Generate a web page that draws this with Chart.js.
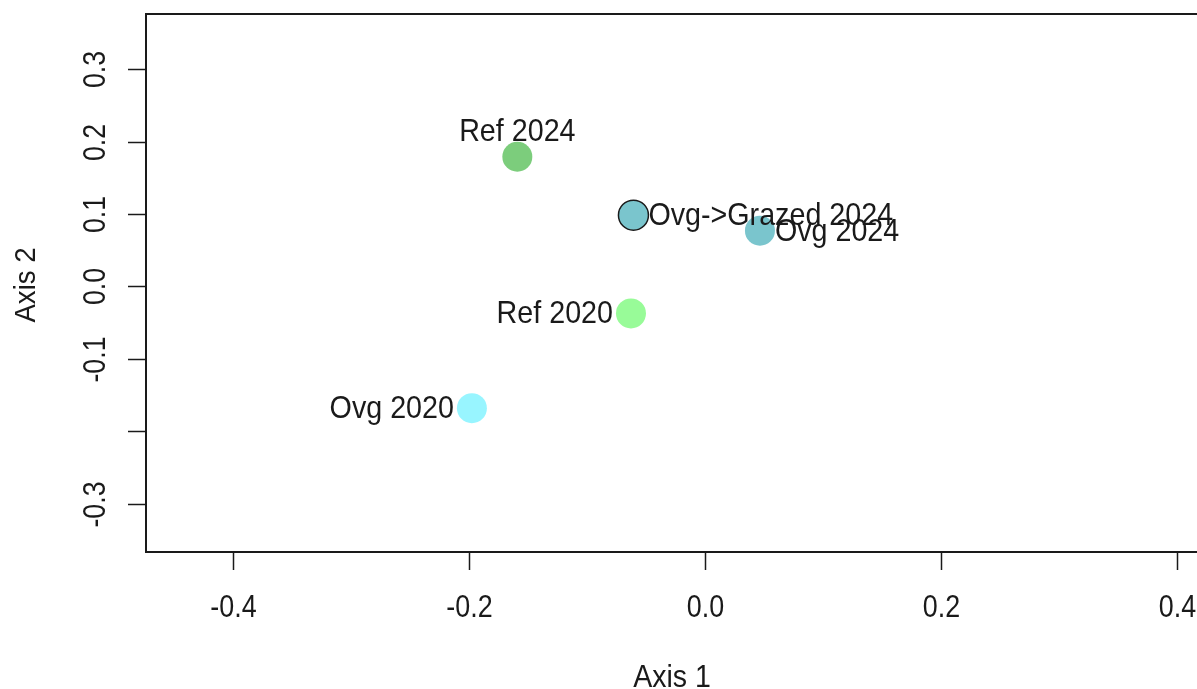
<!DOCTYPE html>
<html>
<head>
<meta charset="utf-8">
<script src="https://cdn.jsdelivr.net/npm/chart.js@4/dist/chart.umd.min.js"></script>
<style>
  html, body { margin: 0; padding: 0; background: #ffffff; overflow: hidden; }
  #wrap { width: 1197px; height: 689px; }
</style>
</head>
<body>
<div id="wrap"><canvas id="ord" width="1197" height="689"></canvas></div>
<script>
// Ordination scores for each group/year
const groups = ['Ref 2024', 'Ovg->Grazed 2024', 'Ovg 2024', 'Ref 2020', 'Ovg 2020'];
const axis1Scores = [-0.159, -0.0606, 0.0466, -0.0627, -0.1975];
const axis2Scores = [0.179, 0.0984, 0.077, -0.0372, -0.1679];

// Marker fills and outlines
const fillColors = ['#7CCD7C', '#7AC5CD', '#7AC5CD', '#98FB98', '#98F5FF'];
const edgeColors = ['#7CCD7C', '#1a1a1a', '#7AC5CD', '#98FB98', '#98F5FF'];
const edgeWidths = [0, 1.5, 0, 0, 0];

// Which side of the marker each name sits on
const labelSide = ['top', 'right', 'right', 'left', 'left'];

// Axis ticks
const xTicks = [-0.4, -0.2, 0.0, 0.2, 0.4];
const xTickLabels = ['-0.4', '-0.2', '0.0', '0.2', '0.4'];
const yTicks = [-0.3, -0.2, -0.1, 0.0, 0.1, 0.2, 0.3];
const yTickLabels = ['-0.3', '', '-0.1', '0.0', '0.1', '0.2', '0.3'];

const points = axis1Scores.map((x, i) => ({ x: x, y: axis2Scores[i] }));

const FONT = '"Liberation Sans", Arial, Helvetica, sans-serif';
const INK = '#1a1a1a';

function drawText(ctx, txt, x, y, size, sx, angle, align) {
  ctx.save();
  ctx.translate(x, y);
  if (angle) ctx.rotate(angle);
  ctx.scale(sx, 1);
  ctx.font = size + 'px ' + FONT;
  ctx.textAlign = align;
  ctx.textBaseline = 'alphabetic';
  ctx.fillStyle = INK;
  ctx.fillText(txt, 0, 0);
  ctx.restore();
}

// Box, ticks and axis titles in base-graphics style
const framePlugin = {
  id: 'frame',
  beforeDatasetsDraw(chart) {
    const ctx = chart.ctx;
    const a = chart.chartArea;
    const xs = chart.scales.x, ys = chart.scales.y;
    ctx.save();
    ctx.strokeStyle = INK;
    ctx.lineWidth = 2;
    ctx.beginPath();
    ctx.moveTo(chart.width + 2, a.top);
    ctx.lineTo(a.left, a.top);
    ctx.lineTo(a.left, a.bottom);
    ctx.lineTo(chart.width + 2, a.bottom);
    ctx.stroke();

    ctx.lineWidth = 1.5;
    xTicks.forEach((v, i) => {
      const px = Math.round(xs.getPixelForValue(v)) + 0.5;
      ctx.beginPath();
      ctx.moveTo(px, a.bottom);
      ctx.lineTo(px, a.bottom + 18);
      ctx.stroke();
      drawText(ctx, xTickLabels[i], px, 617, 32, 0.84, 0, 'center');
    });
    yTicks.forEach((v, i) => {
      const py = Math.round(ys.getPixelForValue(v)) + 0.5;
      ctx.beginPath();
      ctx.moveTo(a.left, py);
      ctx.lineTo(a.left - 18, py);
      ctx.stroke();
      if (yTickLabels[i]) {
        drawText(ctx, yTickLabels[i], 105, py, 31.5, 0.85, -Math.PI / 2, 'center');
      }
    });
    ctx.restore();

    drawText(ctx, 'Axis 1', 672, 687, 31, 0.92, 0, 'center');
    drawText(ctx, 'Axis 2', 35, 285, 30, 0.92, -Math.PI / 2, 'center');
  },
  afterDatasetsDraw(chart) {
    const ctx = chart.ctx;
    const xs = chart.scales.x, ys = chart.scales.y;
    points.forEach((p, i) => {
      const px = xs.getPixelForValue(p.x);
      const py = ys.getPixelForValue(p.y);
      const side = labelSide[i];
      if (side === 'top') {
        drawText(ctx, groups[i], px, py - 16, 30.5, 0.94, 0, 'center');
      } else if (side === 'right') {
        drawText(ctx, groups[i], px + 15, py + 10, 30.5, 0.94, 0, 'left');
      } else {
        drawText(ctx, groups[i], px - 18, py + 10, 30.5, 0.94, 0, 'right');
      }
    });
  }
};

new Chart(document.getElementById('ord'), {
  type: 'scatter',
  data: {
    datasets: [{
      data: points,
      pointRadius: 15,
      pointHoverRadius: 15,
      pointBackgroundColor: fillColors,
      pointBorderColor: edgeColors,
      pointBorderWidth: edgeWidths,
      showLine: false,
      clip: false
    }]
  },
  options: {
    responsive: false,
    animation: false,
    devicePixelRatio: 1,
    layout: { autoPadding: false, padding: { left: 146, top: 14, right: 0, bottom: 137 } },
    scales: {
      x: { type: 'linear', display: false, min: -0.4737, max: 0.417 },
      y: { type: 'linear', display: false, min: -0.3664, max: 0.376 }
    },
    plugins: {
      legend: { display: false },
      tooltip: { enabled: false }
    },
    events: []
  },
  plugins: [framePlugin]
});
</script>
</body>
</html>
